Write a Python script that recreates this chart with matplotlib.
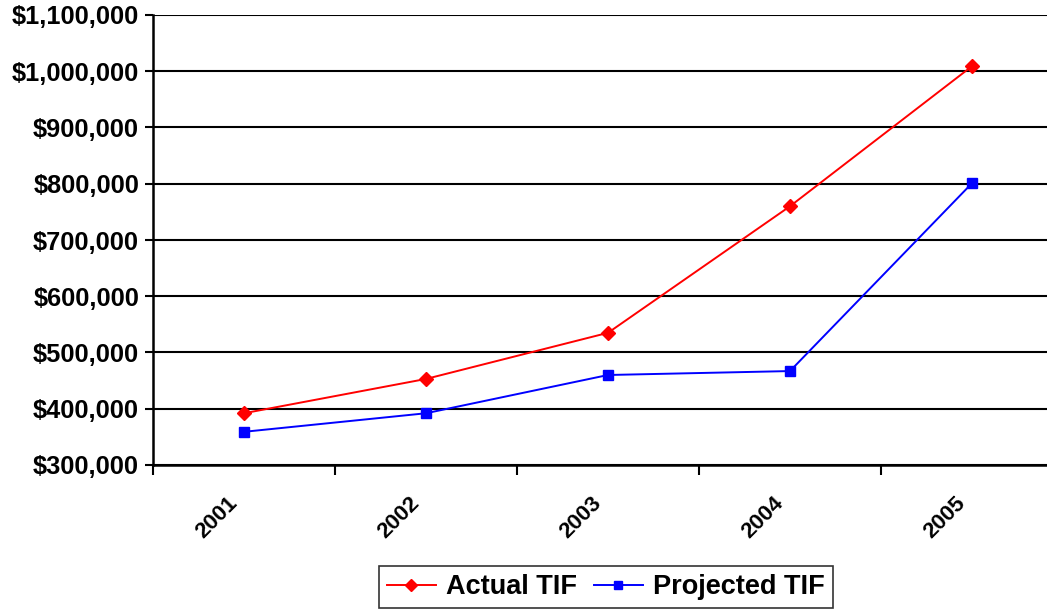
import matplotlib.pyplot as plt
import numpy as np
from matplotlib.ticker import FuncFormatter
from matplotlib.transforms import ScaledTranslation

years = ["2001", "2002", "2003", "2004", "2005"]
actual_tif = [392000, 453000, 535000, 760000, 1009000]
projected_tif = [359000, 392000, 460000, 467000, 801000]

plt.rcParams["font.family"] = ["Liberation Sans", "DejaVu Sans"]
plt.rcParams["font.weight"] = "bold"

fig = plt.figure(figsize=(10.47, 6.11), dpi=100)
# axes runs a little past the right edge of the figure
ax = fig.add_axes([153 / 1047, 1 - 465 / 611, 910 / 1047, 450 / 611])

x = np.arange(len(years))
ax.plot(x, actual_tif, color="red", linewidth=1.4, marker="D", markersize=7.5,
        label="Actual TIF", zorder=3)
ax.plot(x, projected_tif, color="blue", linewidth=1.4, marker="s", markersize=7.5,
        label="Projected TIF", zorder=3)

ax.set_xlim(-0.5, len(years) - 0.5)
ax.set_ylim(300000, 1100000)
ax.set_yticks(np.arange(300000, 1100001, 100000))
ax.yaxis.set_major_formatter(FuncFormatter(lambda v, p: "${:,.0f}".format(v)))
ax.grid(axis="y", color="black", linewidth=1.5, zorder=1)

# category labels at centres, tick marks between categories
ax.set_xticks(x)
ax.set_xticklabels(years, rotation=45, ha="right", rotation_mode="anchor")
ax.set_xticks(np.arange(-0.5, len(years)), minor=True)
ax.tick_params(axis="x", which="major", length=0, pad=20, labelsize=16)
ax.tick_params(axis="x", which="minor", length=7, width=1.5, color="black")
ax.tick_params(axis="y", length=6, width=1.5, labelsize=18.3, pad=4)
shift = ScaledTranslation(-0.17, 0, fig.dpi_scale_trans)
for lbl in ax.get_xticklabels():
    lbl.set_transform(lbl.get_transform() + shift)

for side in ["top", "right"]:
    ax.spines[side].set_visible(False)
for side in ["left", "bottom"]:
    ax.spines[side].set_linewidth(1.8)

leg = fig.legend(loc="center", bbox_to_anchor=(606 / 1047, 1 - 587 / 611), ncol=2,
                 frameon=True, fancybox=False, edgecolor="black", borderpad=0.3,
                 columnspacing=0.6, handlelength=1.8, handletextpad=0.4,
                 prop={"size": 19.5, "weight": "bold"})
leg.get_frame().set_linewidth(1.2)
for h in leg.legend_handles:
    h.set_markersize(6)

fig.savefig("out.png", dpi=100)
